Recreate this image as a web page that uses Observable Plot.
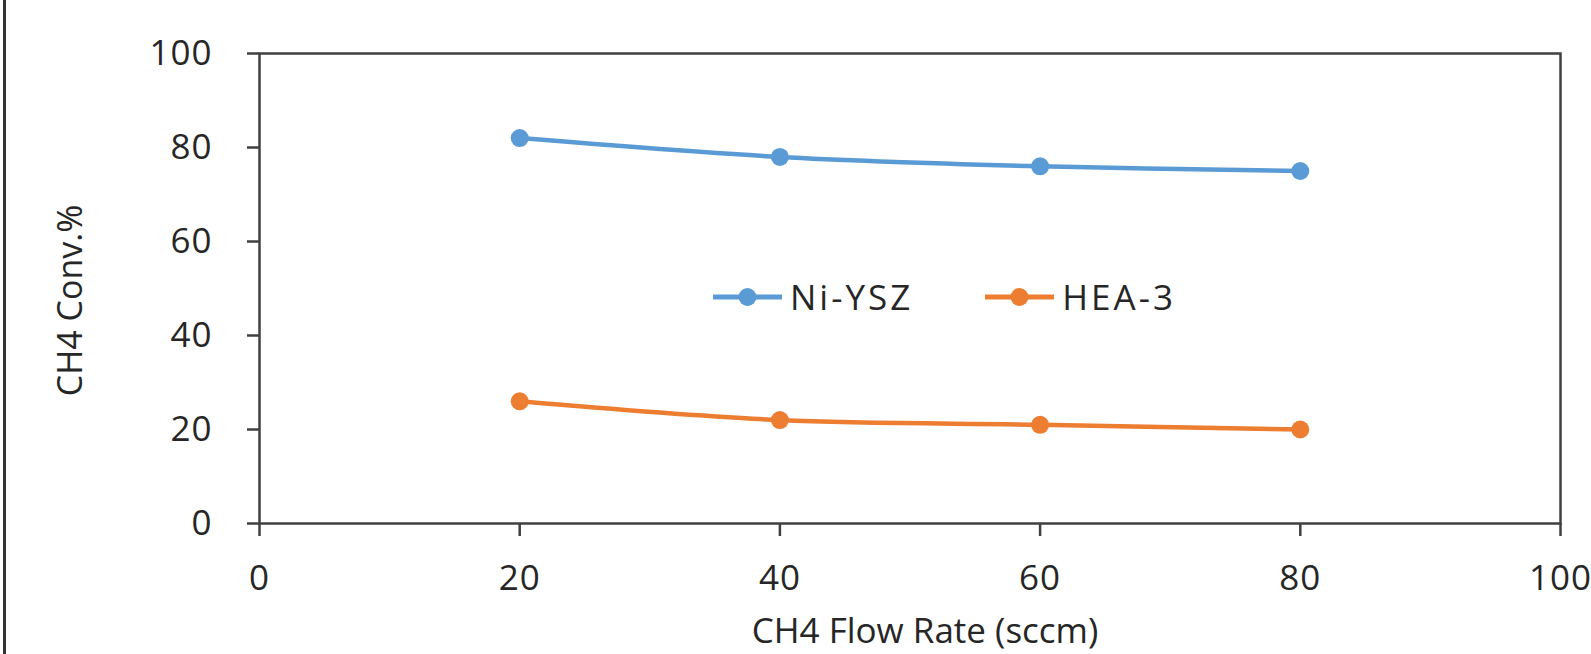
<!DOCTYPE html>
<html>
<head>
<meta charset="utf-8">
<script src="https://cdn.jsdelivr.net/npm/d3@7"></script>
<script src="https://cdn.jsdelivr.net/npm/@observablehq/plot@0.6"></script>
<style>
  html, body { margin: 0; padding: 0; background: #fff; width: 1591px; height: 654px; overflow: hidden; }
  #wrap { position: relative; width: 1591px; height: 654px; overflow: hidden; background: #fff; }
  #border { position: absolute; left: 3px; top: 0; width: 2.5px; height: 654px; background: #333; }
  g[aria-label="x-axis tick label"] text { letter-spacing: 1px; }
  g[aria-label="y-axis tick label"] text { letter-spacing: 1px; }
  g[aria-label="xlabel"] text { letter-spacing: 2.5px; }
  #legend { position: absolute; top: 273px; left: 713px; display: flex; align-items: center; gap: 72px;
            font-family: 'Open Sans', sans-serif; font-size: 35px; letter-spacing: 3px; color: #262626; }
  .item { display: flex; align-items: center; gap: 8px; }
</style>
</head>
<body>
<div id="wrap"><div id="border"></div><div id="legend"></div></div>
<script>
const flow = [20, 40, 60, 80];
const niYSZ = [82, 78, 76, 75];
const hea3 = [26, 22, 21, 20];
const seriesNames = ["Ni-YSZ", "HEA-3"];
const seriesColors = ["#5B9BD5", "#ED7D31"];
const xTicks = [0, 20, 40, 60, 80, 100];
const yTicks = [0, 20, 40, 60, 80, 100];
const xLabel = "CH4 Flow Rate (sccm)";
const yLabel = "CH4 Conv.%";

const seriesValues = [niYSZ, hea3];
const data = seriesNames.flatMap((s, k) => flow.map((f, i) => ({flow: f, conv: seriesValues[k][i], series: s})));

const axisColor = "#404040";
const textColor = "#262626";

const chart = Plot.plot({
  width: 1591,
  height: 654,
  marginLeft: 259,
  marginRight: 31,
  marginTop: 53,
  marginBottom: 131,
  style: {fontFamily: "'Open Sans', sans-serif", background: "transparent"},
  x: {domain: [0, 100]},
  y: {domain: [0, 100]},
  color: {domain: seriesNames, range: seriesColors},
  marks: [
    Plot.frame({stroke: axisColor, strokeWidth: 2.5}),
    Plot.axisX({ticks: xTicks, tickSize: 13, tickPadding: 29, label: null, stroke: axisColor, strokeWidth: 2.5, strokeOpacity: 1, fontSize: 35, fill: textColor}),
    Plot.axisY({ticks: yTicks, tickSize: 12, tickPadding: 35, label: null, stroke: axisColor, strokeWidth: 2.5, strokeOpacity: 1, fontSize: 35, fill: textColor}),
    Plot.line(data, {x: "flow", y: "conv", stroke: "series", z: "series", curve: "catmull-rom", strokeWidth: 4.5}),
    Plot.dot(data, {x: "flow", y: "conv", fill: "series", r: 9}),
    Plot.text([xLabel], {text: d => d, frameAnchor: "bottom", textAnchor: "middle", dx: 15, dy: 108, lineAnchor: "middle", fontSize: 35, fill: textColor, ariaLabel: "xlabel"}),
    Plot.text([yLabel], {text: d => d, frameAnchor: "left", textAnchor: "middle", dx: -188, dy: 12, rotate: -90, lineAnchor: "middle", fontSize: 34, fill: textColor, ariaLabel: "ylabel"})
  ]
});
chart.style.position = "absolute";
chart.style.left = "0px";
chart.style.top = "0px";
document.getElementById("wrap").appendChild(chart);

// Legend
const legend = d3.select("#legend");
seriesNames.forEach((name, k) => {
  const item = legend.append("div").attr("class", "item");
  const sw = item.append("svg").attr("width", 69).attr("height", 20);
  sw.append("line").attr("x1", 0).attr("x2", 69).attr("y1", 10).attr("y2", 10)
    .attr("stroke", seriesColors[k]).attr("stroke-width", 5);
  sw.append("circle").attr("cx", 34.5).attr("cy", 10).attr("r", 9).attr("fill", seriesColors[k]);
  item.append("span").text(name);
});
</script>
</body>
</html>
